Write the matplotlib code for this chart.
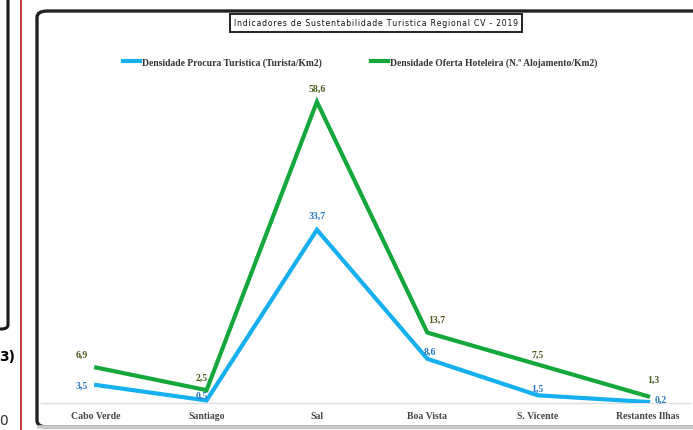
import matplotlib.pyplot as plt
from matplotlib.patches import FancyBboxPatch
from matplotlib.lines import Line2D

# island groups and the two density series
ISLANDS = ["Cabo Verde", "Santiago", "Sal", "Boa Vista", "S. Vicente", "Restantes Ilhas"]
PROCURA = [3.5, 0.5, 33.7, 8.6, 1.5, 0.2]
OFERTA = [6.9, 2.5, 58.6, 13.7, 7.5, 1.3]
LABEL_PROCURA = "Densidade Procura Turistica (Turista/Km2)"
LABEL_OFERTA = "Densidade Oferta Hoteleira (N.º Alojamento/Km2)"
TITLE = "Indicadores de Sustentabilidade Turistica Regional CV - 2019"

BLUE = "#16AFEF"
GREEN = "#14A83C"
BLUE_TXT = "#2A78C8"
GREEN_TXT = "#4A5E22"

# data label offsets in pixels (dx, dy)
OFF_PROCURA = [(-14, 0), (-5, 5), (0, 14), (3, 7), (0, 7), (13, 3)]
OFF_OFERTA = [(-14, 13), (-5, 13), (0, 13), (10, 13), (0, 10), (5, 17)]

W, H = 693, 431
fig = plt.figure(figsize=(W / 100, H / 100), dpi=100)


def fx(px):
    return px / W


def fy(py):
    return 1 - py / H


# page furniture around the chart
fig.add_artist(Line2D([fx(21), fx(21)], [0, 1], color="#C0272D", lw=1.3))
fig.add_artist(FancyBboxPatch((fx(-40), fy(330)), fx(48), fy(-20) - fy(330),
                              boxstyle="round,pad=0,rounding_size=0.01",
                              fc="none", ec="#1a1a1a", lw=2.2))
fig.text(fx(-1), fy(357), "3)", fontsize=10, fontweight="bold", va="center", ha="left")
fig.text(fx(-1), fy(421), "0", fontsize=10, va="center", ha="left", color="#333")

# chart frame
frame = FancyBboxPatch((fx(37), fy(428)), fx(720), fy(12) - fy(428),
                       boxstyle="round,pad=0,rounding_size=0.015",
                       fc="white", ec="#222222", lw=2.4, zorder=-2)
fig.add_artist(frame)
fig.add_artist(Line2D([fx(39), 1], [fy(428), fy(428)], color="#cccccc", lw=2.6, zorder=-1))

ax = fig.add_axes([fx(41), fy(404), fx(690 - 41), fy(85) - fy(404)])
ax.set_zorder(2)
x = list(range(len(ISLANDS)))
ax.plot(x, PROCURA, color=BLUE, lw=3, solid_joinstyle="miter", label=LABEL_PROCURA, zorder=3)
ax.plot(x, OFERTA, color=GREEN, lw=3, solid_joinstyle="miter", label=LABEL_OFERTA, zorder=3)

for xi, v, off in zip(x, PROCURA, OFF_PROCURA):
    ax.annotate(f"{v:.1f}".replace(".", ","), (xi, v), xytext=off, textcoords="offset pixels",
                ha="center", va="center", fontsize=7, fontweight="bold",
                family="Liberation Serif", color=BLUE_TXT, zorder=4)
for xi, v, off in zip(x, OFERTA, OFF_OFERTA):
    ax.annotate(f"{v:.1f}".replace(".", ","), (xi, v), xytext=off, textcoords="offset pixels",
                ha="center", va="center", fontsize=7, fontweight="bold",
                family="Liberation Serif", color=GREEN_TXT, zorder=4)

ax.set_xlim(-0.5, (690 - 96) / 110.4)
ax.set_ylim(0, (404 - 85) / 5.14)
ax.set_xticks(x)
ax.set_xticklabels(ISLANDS, fontsize=7, fontweight="bold", family="Liberation Serif", color="#444")
ax.tick_params(axis="x", length=0, pad=6)
ax.set_yticks([])
for side in ["top", "left", "right"]:
    ax.spines[side].set_visible(False)
ax.spines["bottom"].set_color("#e0e0e0")
ax.spines["bottom"].set_linewidth(1)
ax.patch.set_alpha(0)

leg = fig.legend(loc="center", bbox_to_anchor=(fx(360), fy(63)), ncol=2, frameon=False,
                 handlelength=1.8, handletextpad=0.15, columnspacing=5.2,
                 prop={"family": "Liberation Serif", "weight": "bold", "size": 6.9},
                 labelcolor="#333")
leg.set_zorder(3)

spaced = "\u200a".join(TITLE)
fig.text(fx(376), fy(24), spaced, fontsize=5.6, ha="center", va="center",
         color="#111", bbox=dict(boxstyle="square,pad=0.55", fc="white", ec="#222", lw=1.4))

fig.savefig("out.png", dpi=100)
